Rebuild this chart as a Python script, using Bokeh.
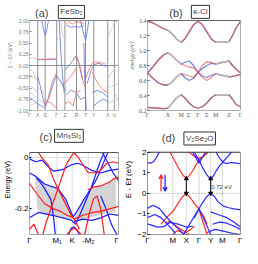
import numpy as np
from bokeh.plotting import figure
from bokeh.layouts import gridplot
from bokeh.models import Range1d, FixedTicker, Label, Arrow, VeeHead
from bokeh.embed import file_html
from bokeh.resources import INLINE

# ---------------- Panel (a) FeSb2 ----------------
A_TICKS = [0, 10, 19, 33, 43, 57, 68, 78, 95, 103]
A_LABELS = ["Γ", "X", "S", "Γ", "Z", "R", "T", "Y", "X", "U"]
A_YTICKS = [-1.0, -0.75, -0.5, -0.25, 0.0, 0.25, 0.5, 0.75, 1.0]
A_GREY = [
    ([0, 5, 10], [0.17, 0.16, 0.15]),
    ([0, 4, 8, 10], [-0.05, -0.15, -0.3, -0.35]),
    ([0, 5, 10], [-0.22, -0.25, -0.3]),
    ([0, 5, 10], [-0.45, -0.5, -0.6]),
    ([0, 5, 10, 15, 19], [-0.6, -0.65, -0.75, -0.8, -0.85]),
    ([0, 5, 10], [-0.9, -0.85, -0.8]),
    ([10, 14, 19], [-0.5, -0.55, -0.65]),
    ([33, 36, 39, 43], [-0.2, -0.3, -0.4, -0.45]),
    ([38, 40, 43], [1.0, 0.7, 0.6]),
    ([95, 100, 104, 108], [-0.3, -0.15, -0.05, 0.05]),
    ([95, 99, 103, 108], [0.6, 0.8, 0.95, 1.0]),
    ([95, 100, 108], [-0.5, -0.45, -0.4]),
    ([95, 100, 108], [-0.85, -0.8, -0.75]),
    ([103, 106, 108], [-0.6, -0.7, -0.75]),
]
A_BLUE = [
    ([15, 17, 19, 21, 23], [1.0, 0.8, 0.66, 0.8, 1.0]),
    ([10, 19, 28, 33], [0.13, 0.13, 0.14, 0.13]),
    ([10, 13, 16, 19], [-0.25, -0.45, -0.7, -0.9]),
    ([19, 24, 28, 33], [-0.9, -0.7, -0.45, -0.2]),
    ([0, 5, 10, 15, 19], [-0.7, -0.78, -0.85, -0.9, -0.95]),
    ([36, 38, 40, 42], [1.0, 0.3, -0.2, -0.6]),
    ([33, 38, 43], [-0.25, -0.35, -0.55]),
    ([45, 50, 55, 60, 66], [0.9, 0.85, 0.87, 0.85, 0.88]),
    ([43, 48, 53, 57, 60, 64], [-0.1, 0.0, 0.12, 0.22, 0.05, -0.3]),
    ([62, 65, 68, 70, 72], [1.0, 0.75, 0.55, 0.75, 1.0]),
    ([66, 67, 68, 69], [0.5, -0.3, -0.7, -1.0]),
    ([70, 74, 78, 84, 90, 95], [-0.4, -0.15, 0.02, 0.05, 0.0, -0.02]),
    ([76, 82, 88, 95], [-0.6, -0.55, -0.6, -0.7]),
    ([78, 84, 90, 95], [-0.9, -0.8, -0.75, -0.8]),
    ([45, 50, 57, 62, 68], [-0.65, -0.55, -0.6, -0.75, -0.7]),
]
A_RED = [
    ([10, 19, 28, 33], [0.14, 0.14, 0.15, 0.14]),
    ([19, 23, 27, 33], [-0.95, -0.7, -0.4, -0.15]),
    ([19, 25, 30, 33], [-0.78, -0.82, -0.9, -0.95]),
    ([43, 47, 52, 57], [-0.4, -0.3, -0.2, -0.05]),
    ([45, 48, 52, 57, 62, 66], [0.93, 0.97, 0.92, 0.98, 0.95, 0.93]),
    ([53, 57, 61, 65, 68], [0.15, 0.2, 0.0, -0.35, -0.5]),
    ([68, 72, 76, 80, 86, 92], [-0.3, -0.1, 0.05, 0.08, 0.07, 0.03]),
    ([76, 80, 85, 90, 95], [-0.15, -0.3, -0.45, -0.55, -0.6]),
    ([43, 48, 53, 57, 62], [-0.85, -0.8, -0.9, -0.6, -0.55]),
]

# ---------------- Panel (b) kappa-Cl ----------------
B_TICKS = [0, 23, 38, 47, 57, 67, 77, 92, 105]
B_LABELS = ["Γ", "X", "M", "Σ'", "Γ", "Σ", "M", "Z", "Γ"]
B_YTICKS = [0.2, 0.4, 0.6, 0.8, 1.0, 1.2, 1.4]
B_K = [0, 6, 12, 18, 23, 28, 33, 38, 42, 47, 52, 57, 62, 67, 72, 77, 84, 92, 96, 100, 105]
B_BLUE = [
    [1.39, 1.37, 1.33, 1.29, 1.27, 1.22, 1.15, 1.11, 1.15, 1.24, 1.34, 1.39, 1.34, 1.24, 1.15, 1.11, 1.11, 1.12, 1.2, 1.3, 1.39],
    [0.70, 0.78, 0.87, 0.94, 0.97, 0.93, 0.87, 0.82, 0.84, 0.86, 0.80, 0.71, 0.76, 0.80, 0.83, 0.82, 0.84, 0.86, 0.80, 0.75, 0.70],
    [0.70, 0.63, 0.57, 0.54, 0.54, 0.58, 0.65, 0.69, 0.64, 0.60, 0.63, 0.71, 0.66, 0.64, 0.67, 0.69, 0.67, 0.65, 0.655, 0.665, 0.68],
    [0.24, 0.235, 0.23, 0.225, 0.23, 0.3, 0.37, 0.41, 0.37, 0.3, 0.25, 0.23, 0.25, 0.3, 0.37, 0.41, 0.41, 0.41, 0.35, 0.28, 0.25],
]
B_RED = [
    [1.39, 1.37, 1.33, 1.29, 1.27, 1.22, 1.15, 1.11, 1.16, 1.26, 1.35, 1.39, 1.35, 1.26, 1.16, 1.11, 1.11, 1.12, 1.2, 1.3, 1.39],
    [0.70, 0.78, 0.87, 0.94, 0.97, 0.93, 0.87, 0.82, 0.80, 0.78, 0.77, 0.71, 0.80, 0.85, 0.84, 0.82, 0.84, 0.86, 0.80, 0.75, 0.70],
    [0.70, 0.63, 0.57, 0.54, 0.54, 0.58, 0.65, 0.69, 0.68, 0.66, 0.64, 0.71, 0.64, 0.60, 0.64, 0.69, 0.67, 0.65, 0.655, 0.665, 0.68],
    [0.24, 0.235, 0.23, 0.225, 0.23, 0.3, 0.37, 0.41, 0.37, 0.3, 0.25, 0.23, 0.25, 0.3, 0.37, 0.41, 0.41, 0.41, 0.35, 0.28, 0.25],
]
B_GREY_SPANS = [(23, 38), (77, 92)]

# ---------------- Panel (c) Mn5Si3 ----------------
C_TICKS = [0, 31, 48, 66, 98]
C_LABELS = ["Γ", "M₁", "K", "-M₂", "Γ"]
C_YTICKS = [-0.2, 0.0]
C_SHADE_K = [6, 17, 32, 41, 49, 51, 61, 69, 81, 94, 97, 97, 84, 71, 61, 51, 44, 31, 14, 9]
C_SHADE_E = [-0.071, -0.103, -0.121, -0.164, -0.232, -0.232, -0.164, -0.121, -0.109, -0.084, -0.071,
             -0.213, -0.22, -0.232, -0.244, -0.235, -0.241, -0.232, -0.22, -0.201]
C_BLUE = [
    ([0, 6, 17, 32, 41, 49, 55, 61, 69, 75, 80, 84], [-0.06, -0.071, -0.103, -0.121, -0.164, -0.232, -0.2, -0.164, -0.121, -0.06, -0.01, 0.02]),
    ([0, 7, 14, 21, 27, 37, 47, 54, 60, 70, 80, 90, 100], [-0.005, -0.016, -0.01, -0.035, -0.053, -0.047, -0.028, -0.022, -0.03, -0.05, -0.06, -0.05, -0.045]),
    ([82, 88, 94, 98, 100], [0.02, -0.02, -0.06, -0.08, -0.09]),
    ([8, 13, 17, 24, 27, 29], [-0.08, -0.1, -0.121, -0.164, -0.232, -0.3]),
    ([0, 10, 27, 47, 52], [-0.235, -0.214, -0.226, -0.244, -0.26]),
    ([50, 60, 70, 80, 90, 100], [-0.25, -0.24, -0.245, -0.235, -0.22, -0.225]),
    ([44, 47, 50, 53, 56], [-0.3, -0.275, -0.27, -0.28, -0.3]),
    ([88, 82, 76, 69, 63, 57, 52], [0.02, -0.03, -0.08, -0.121, -0.17, -0.22, -0.26]),
    ([80, 86, 92, 98, 100], [-0.15, -0.2, -0.26, -0.3, -0.3]),
]
C_RED = [
    ([10, 14, 21, 27, 32, 39, 47, 52, 56], [0.02, 0.0, -0.028, -0.084, -0.121, -0.17, -0.226, -0.25, -0.28]),
    ([50, 46, 41, 36, 32, 26, 19, 15], [0.02, 0.0, -0.03, -0.08, -0.121, -0.18, -0.25, -0.3]),
    ([50, 55, 59, 66, 77, 87, 94, 100], [0.02, 0.0, -0.022, -0.059, -0.059, -0.022, -0.016, -0.022]),
    ([66, 72, 81, 90, 94, 100], [-0.125, -0.115, -0.109, -0.095, -0.084, -0.075]),
    ([0, 8, 17, 27, 35, 42, 48], [-0.10, -0.14, -0.18, -0.2, -0.21, -0.225, -0.232]),
    ([62, 67, 72, 76, 80, 84], [-0.3, -0.22, -0.16, -0.15, -0.2, -0.3]),
    ([50, 60, 70, 80, 90, 100], [-0.24, -0.225, -0.215, -0.21, -0.2, -0.19]),
    ([42, 46, 50, 54, 58], [-0.3, -0.285, -0.275, -0.285, -0.3]),
    ([0, 5, 10], [-0.28, -0.26, -0.3]),
]

# ---------------- Panel (d) V2Se2O ----------------
D_TICKS = [0, 28, 43, 57, 70, 83, 103]
D_LABELS = ["Γ", "M", "X", "Γ", "Y", "M", "Γ"]
D_YTICKS = [-2, -1, 0, 1, 2]
D_RED = [
    ([25, 30, 36, 40, 43, 46, 50, 54, 57, 62, 67], [2.0, 1.6, 1.1, 0.85, 0.72, 0.85, 1.1, 1.4, 1.6, 1.8, 2.0]),
    ([15, 21, 28, 33, 38, 43, 48, 52, 57, 62, 66], [-1.5, -1.18, -0.88, -0.55, -0.2, 0.0, -0.25, -0.5, -0.76, -1.1, -1.5]),
    ([46, 52, 57, 62, 66], [2.0, 1.8, 1.7, 1.8, 2.0]),
    ([20, 25, 31, 37, 43, 48, 52], [-1.45, -1.35, -1.56, -1.75, -1.9, -1.75, -1.6]),
    ([28, 33, 38, 43, 46], [-2.0, -1.8, -1.9, -2.0, -1.95]),
    ([57, 60, 63, 66], [-0.75, -1.2, -1.6, -2.0]),
]
D_BLUE = [
    ([52, 57, 61, 65, 68, 70, 72, 76, 80, 84, 89, 93], [2.0, 1.62, 1.25, 0.95, 0.78, 0.72, 0.78, 1.09, 1.35, 1.55, 1.8, 2.0]),
    ([52, 57, 61, 66, 70, 74, 78, 84, 90, 96, 103], [-1.2, -0.75, -0.45, -0.15, 0.0, -0.15, -0.4, -0.62, -0.7, -0.75, -0.8]),
    ([0, 4, 7, 10, 13], [1.47, 1.48, 1.55, 1.75, 2.0]),
    ([50, 54, 57, 60, 64], [2.0, 1.7, 1.47, 1.7, 2.0]),
    ([76, 80, 84, 88, 92, 96, 100, 103], [2.0, 1.7, 1.5, 1.45, 1.5, 1.48, 1.46, 1.45]),
    ([0, 6, 13, 20, 28, 35, 40], [-0.73, -0.58, -0.73, -1.1, -1.48, -1.75, -2.0]),
    ([0, 8, 15, 25, 31], [-1.18, -1.03, -1.18, -1.64, -1.94]),
    ([0, 11, 18, 25, 33, 43, 50], [-1.48, -1.64, -1.62, -1.41, -1.48, -1.64, -1.6]),
    ([57, 52, 48, 44, 40], [-0.75, -1.1, -1.4, -1.7, -2.0]),
    ([57, 62, 66, 70], [-0.75, -1.2, -1.6, -2.0]),
    ([70, 78, 88, 96, 103], [-0.9, -1.03, -1.18, -1.4, -1.64]),
    ([72, 80, 88, 96, 103], [-1.5, -1.4, -1.45, -1.6, -1.75]),
    ([66, 75, 85, 95, 103], [-1.9, -1.75, -1.85, -1.95, -2.0]),
]
D_GAP_K = [43, 70]
D_GAP_VB = [0.0, 0.0]
D_GAP_CB = [0.72, 0.72]
D_GAP_TEXT = "0.72 eV"

SANS = "Liberation Sans"
SERIF = "Liberation Serif"


def make_fig(w, h, xr, yr, borders, top_px, plot_px, xticks, xlabels, yticks, font, fs,
             ylabel, lfs, axis_color="black"):
    # the frame is extended upward so that the panel titles sit inside it
    y0, y1 = yr
    ytop = y1 + top_px * (y1 - y0) / plot_px
    p = figure(width=w, height=h, x_range=Range1d(*xr), y_range=Range1d(y0, ytop),
               output_backend="svg", toolbar_location=None,
               min_border_left=borders[0], min_border_right=borders[1],
               min_border_top=0, min_border_bottom=borders[2])
    p.xaxis.ticker = FixedTicker(ticks=xticks)
    p.xaxis.major_label_overrides = {t: l for t, l in zip(xticks, xlabels)}
    p.yaxis.ticker = FixedTicker(ticks=yticks)
    for ax in (p.xaxis[0], p.yaxis[0]):
        ax.major_label_text_font = font
        ax.major_label_text_font_size = fs
        ax.major_label_text_color = axis_color
        ax.major_label_standoff = 1
        ax.major_tick_out = 0
        ax.major_tick_in = 2
        ax.minor_tick_out = 0
        ax.minor_tick_in = 0
        ax.axis_line_color = None
        ax.major_tick_line_color = axis_color
    p.xaxis.major_tick_in = 0
    p.yaxis.axis_label = ylabel
    p.yaxis.axis_label_text_font = font
    p.yaxis.axis_label_text_font_size = lfs
    p.yaxis.axis_label_text_font_style = "normal"
    p.yaxis.axis_label_standoff = 1
    p.yaxis.axis_label_text_color = axis_color
    p.outline_line_color = None
    p.grid.visible = False
    p.background_fill_color = "white"
    p.border_fill_color = "white"
    return p


def box(p, xr, yr, color):
    p.quad(left=[xr[0]], right=[xr[1]], bottom=[yr[0]], top=[yr[1]],
           fill_color=None, line_color=color, line_width=1)


def vlines(p, ticks, yr, color, width=1):
    p.segment(x0=ticks, y0=[yr[0]] * len(ticks), x1=ticks, y1=[yr[1]] * len(ticks),
              line_color=color, line_width=width)


def titles(p, tx, ty, title, bx, by, boxtext, tfs="11px", bfs="8px"):
    p.add_layout(Label(x=tx, y=ty, text=title, text_font=SANS, text_font_size=tfs,
                       text_align="center", text_baseline="middle"))
    p.add_layout(Label(x=bx, y=by, text=boxtext, text_font=SANS, text_font_size=bfs,
                       text_align="center", text_baseline="middle",
                       border_line_color="#333333", border_line_width=1,
                       background_fill_color="white", padding=2))


# ---- (a)
AX, AY = (0, 108), (-1.0, 1.0)
pa = make_fig(121, 124, AX, AY, (19, 1, 14), 20, 90, A_TICKS, A_LABELS, A_YTICKS,
              SANS, "5px", "E − EF (eV)", "5px", axis_color="#777777")
pa.yaxis.major_label_overrides = {v: f"{v:.2f}" for v in A_YTICKS}
vlines(pa, A_TICKS[1:], AY, "#8f8f8f")
pa.segment(x0=[AX[0]], y0=[0], x1=[AX[1]], y1=[0], line_color="#8f8f8f", line_width=1)
for k, e in A_GREY:
    pa.line(k, e, line_color="#d2d2d2", line_width=1)
for k, e in A_BLUE:
    pa.line(k, e, line_color="#5f74d8", line_width=1, line_alpha=0.8)
for k, e in A_RED:
    pa.line(k, e, line_color="#ef6f66", line_width=1, line_alpha=0.8)
box(pa, AX, AY, "#888888")
titles(pa, 14.8, 1.17, "(a)", 50.9, 1.19, "FeSb₂")

# ---- (b)
BX, BY = (0, 105), (0.2, 1.4)
pb = make_fig(121, 124, BX, BY, (20, 1, 14), 20, 90, B_TICKS, B_LABELS, B_YTICKS,
              SERIF, "6px", "energy (eV)", "6px", axis_color="#555555")
pb.yaxis.axis_label_text_font_style = "italic"
pb.yaxis.major_label_overrides = {v: f"{v:.1f}" for v in B_YTICKS}
kb = np.array(B_K)
for eb, er in zip(B_BLUE, B_RED):
    pb.line(kb, eb, line_color="#4f6bd8", line_width=1.3, line_alpha=0.8)
    pb.line(kb, er, line_color="#e8423a", line_width=1.3, line_alpha=0.6)
    for lo, hi in B_GREY_SPANS:
        m = (kb >= lo) & (kb <= hi)
        pb.line(kb[m], np.array(eb)[m], line_color="#bdbdbd", line_width=1.5)
box(pb, BX, BY, "#666666")
titles(pb, 32.2, 1.50, "(b)", 59.8, 1.515, "κ-Cl")

# ---- (c)
CX, CY = (0, 100), (-0.30, 0.02)
pc = make_fig(121, 124, CX, CY, (24, 3, 14), 28, 82, C_TICKS, C_LABELS, C_YTICKS,
              SANS, "8px", "Energy (eV)", "7px")
pc.yaxis.major_label_overrides = {-0.2: "-0.2", 0.0: "0"}
vlines(pc, C_TICKS[1:-1], CY, "#dddddd")
pc.segment(x0=[CX[0]], y0=[0], x1=[CX[1]], y1=[0], line_color="#dddddd", line_width=1)
pc.patch(C_SHADE_K, C_SHADE_E, fill_color="#d4d4d4", line_color=None)
for k, e in C_BLUE:
    pc.line(k, e, line_color="#1a1aff", line_width=1.2)
for k, e in C_RED:
    pc.line(k, e, line_color="#ff1a1a", line_width=1.2)
box(pc, CX, CY, "#555555")
titles(pc, 18.4, 0.082, "(c)", 44.3, 0.085, "Mn₅Si₃")

# ---- (d)
DX, DY = (0, 103), (-2, 2)
pd_ = make_fig(121, 124, DX, DY, (21, 2, 13), 28, 83, D_TICKS, D_LABELS, D_YTICKS,
               SANS, "8px", "E - Ef (eV)", "8px")
vlines(pd_, D_TICKS[1:-1], DY, "#d8d8d8")
pd_.segment(x0=[DX[0]], y0=[0], x1=[DX[1]], y1=[0], line_color="#888888", line_width=1,
            line_dash="1 2")
for k, e in D_RED:
    pd_.line(k, e, line_color="#ff2a2a", line_width=1.2)
for k, e in D_BLUE:
    pd_.line(k, e, line_color="#2a2aff", line_width=1.2)
pd_.segment(x0=D_GAP_K, y0=D_GAP_VB, x1=D_GAP_K, y1=D_GAP_CB, line_color="black", line_width=1)
pd_.scatter(D_GAP_K, D_GAP_CB, marker="triangle", size=4, color="black")
pd_.scatter(D_GAP_K, D_GAP_VB, marker="inverted_triangle", size=4, color="black")
pd_.add_layout(Label(x=82, y=0.3, text=D_GAP_TEXT, text_font=SANS, text_font_size="6px",
                     text_align="center", text_baseline="middle"))
pd_.add_layout(Arrow(end=VeeHead(size=4, line_color="#ff2a2a", line_width=1.3),
                     x_start=15, y_start=0.1, x_end=15, y_end=0.9,
                     line_color="#ff2a2a", line_width=1.3))
pd_.add_layout(Arrow(end=VeeHead(size=4, line_color="#2a2aff", line_width=1.3),
                     x_start=19.5, y_start=0.9, x_end=19.5, y_end=0.1,
                     line_color="#2a2aff", line_width=1.3))
box(pd_, DX, DY, "#333333")
titles(pd_, 23.2, 2.67, "(d)", 57.8, 2.67, "V₂Se₂O")

grid = gridplot([[pa, pb], [pc, pd_]], toolbar_location=None)
open("out.html", "w").write(file_html(grid, INLINE))
